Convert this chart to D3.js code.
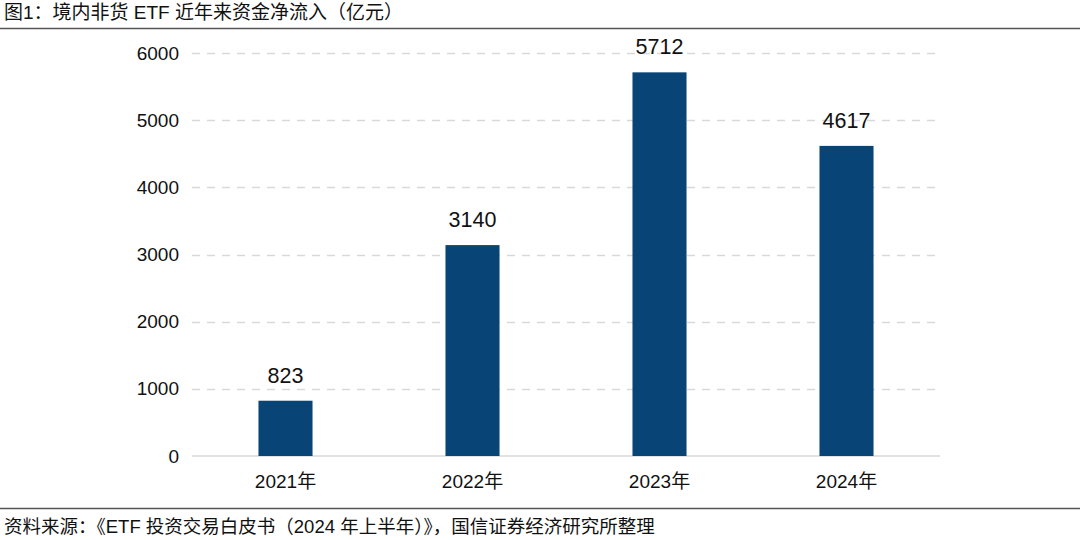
<!DOCTYPE html>
<html><head><meta charset="utf-8">
<script src="https://cdn.jsdelivr.net/npm/d3@7"></script>
<style>body{margin:0;background:#fff}svg{display:block}text{font-family:"Liberation Sans","Noto Sans CJK SC",sans-serif}</style>
</head><body><svg id="c" width="1080" height="540"></svg>
<script>
const categories = ["2021年","2022年","2023年","2024年"];
const values = [823, 3140, 5712, 4617];
const yTicks = [0,1000,2000,3000,4000,5000,6000];
const title = "图1：境内非货 ETF 近年来资金净流入（亿元）";
const source = "资料来源：《ETF 投资交易白皮书（2024 年上半年）》，国信证券经济研究所整理";

const svg = d3.select("#c");
const x = d3.scaleBand().domain(categories).range([192, 940]).paddingInner(0.711).paddingOuter(0.3555);
const y = d3.scaleLinear().domain([0, 6000]).range([456, 53]);

svg.append("text").attr("x", 4).attr("y", 19).attr("font-size", 19).attr("fill", "#111").text(title);
svg.append("line").attr("x1", 0).attr("x2", 1080).attr("y1", 28.5).attr("y2", 28.5).attr("stroke", "#555").attr("stroke-width", 1.5);
svg.append("line").attr("x1", 0).attr("x2", 1080).attr("y1", 508.5).attr("y2", 508.5).attr("stroke", "#555").attr("stroke-width", 1.5);
svg.append("text").attr("x", 4).attr("y", 533).attr("font-size", 18.5)
  .attr("fill", "#111").text(source);

// grid
svg.append("g").selectAll("line").data(yTicks.filter(d => d > 0)).join("line")
  .attr("x1", 192).attr("x2", 940)
  .attr("y1", d => Math.round(y(d)) + 0.5).attr("y2", d => Math.round(y(d)) + 0.5)
  .attr("stroke", "#d9d9d9").attr("stroke-width", 1.5).attr("stroke-dasharray", "8,7");
svg.append("line").attr("x1", 192).attr("x2", 940).attr("y1", y(0)).attr("y2", y(0)).attr("stroke", "#d9d9d9").attr("stroke-width", 1.5);

// y axis labels
const yAxis = d3.axisLeft(y).tickValues(yTicks).tickSize(0).tickPadding(13).tickFormat(d3.format("d"));
const ga = svg.append("g").attr("transform", "translate(192,0)").call(yAxis);
ga.select(".domain").remove();
ga.selectAll("text").attr("font-size", 19).attr("fill", "#111").attr("font-family", '"Liberation Sans",sans-serif');

// x axis labels
const xAxis = d3.axisBottom(x).tickSize(0).tickPadding(19);
const gx = svg.append("g").attr("transform", `translate(0,${y(0)})`).call(xAxis);
gx.select(".domain").remove();
gx.selectAll("text").attr("font-size", 19).attr("fill", "#111");

// bars
svg.append("g").selectAll("rect").data(values).join("rect")
  .attr("x", (d, i) => x(categories[i])).attr("width", x.bandwidth())
  .attr("y", d => y(d)).attr("height", d => y(0) - y(d))
  .attr("fill", "#084475");

svg.append("g").selectAll("text").data(values).join("text")
  .attr("x", (d, i) => x(categories[i]) + x.bandwidth() / 2)
  .attr("y", d => y(d) - 18)
  .attr("text-anchor", "middle").attr("font-size", 21.5).attr("fill", "#111")
  .text(d => d);
</script></body></html>
